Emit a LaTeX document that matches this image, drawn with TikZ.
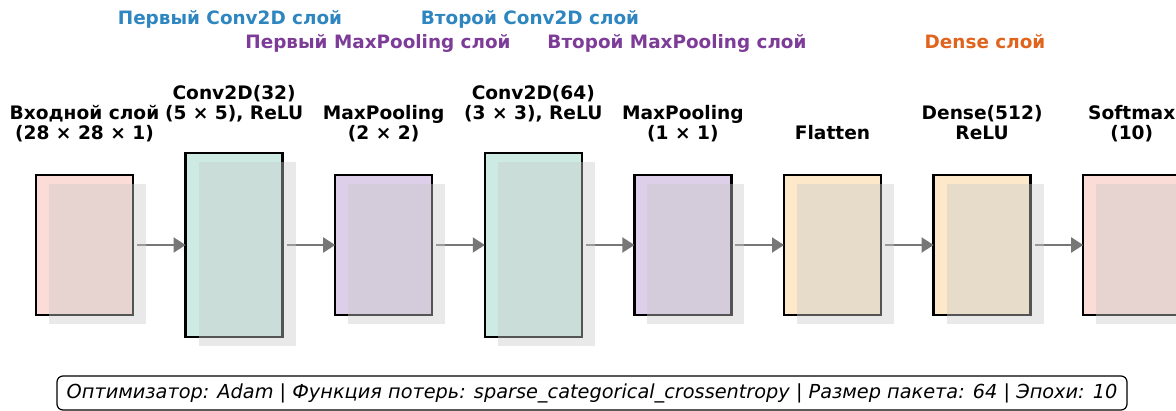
\documentclass[tikz,border=0pt]{standalone}
\usepackage{fontspec}
\setmainfont{DejaVu Sans}
\usetikzlibrary{arrows.meta}

\definecolor{pinkfill}{HTML}{FCDCD6}
\definecolor{tealfill}{HTML}{CDEBE3}
\definecolor{lilacfill}{HTML}{DDCFE9}
\definecolor{sandfill}{HTML}{FDE9CA}
\definecolor{shadegray}{HTML}{CACACA}
\definecolor{convblue}{HTML}{2E86C1}
\definecolor{poolpurple}{HTML}{7D3C98}
\definecolor{denseorange}{HTML}{E0641E}
\definecolor{arrowgray}{HTML}{777777}

\begin{document}
\begin{tikzpicture}[
  x = 1pt, y = -1pt,
  layer/.style = {
    shape = rectangle,
    draw = black,
    line width = 2.5pt,
    minimum width = 97pt,
    minimum height = 140pt,
    inner sep = 0pt,
    outer sep = 0pt,
  },
  tall/.style = { minimum height = 184pt },
  lbl/.style = {
    font = \bfseries\fontsize{18.6}{20.5}\selectfont,
    align = center,
    anchor = base,
    inner sep = 0pt,
  },
  group/.style = {
    font = \bfseries\fontsize{18.4}{20}\selectfont,
    anchor = base,
    inner sep = 0pt,
  },
  flow/.style = {
    draw = arrowgray, line width = 2pt,
    -{Triangle[length = 12pt, width = 15pt]},
    shorten <= 4pt,
  },
  shade/.style = { fill = shadegray, fill opacity = 0.42 },
]
  \useasboundingbox (0, 0) rectangle (1176, 411);

  \node[layer, fill = pinkfill] (v1) at (84.5, 245) {};
  \node[layer, tall, fill = tealfill] (v2) at (234.1, 245) {};
  \node[layer, fill = lilacfill] (v3) at (383.7, 245) {};
  \node[layer, tall, fill = tealfill] (v4) at (533.3, 245) {};
  \node[layer, fill = lilacfill] (v5) at (682.9, 245) {};
  \node[layer, fill = sandfill] (v6) at (832.5, 245) {};
  \node[layer, fill = sandfill] (v7) at (982.1, 245) {};
  \node[layer, fill = pinkfill] (v8) at (1131.7, 245) {};

  % layer captions
  \node[lbl] (l1) at (84.5, 140) {Входной слой\\(28 × 28 × 1)};
  \node[lbl] (l2) at (234.1, 120) {Conv2D(32)\\(5 × 5), ReLU};
  \node[lbl] (l3) at (383.7, 140) {MaxPooling\\(2 × 2)};
  \node[lbl] (l4) at (533.3, 120) {Conv2D(64)\\(3 × 3), ReLU};
  \node[lbl] (l5) at (682.9, 140) {MaxPooling\\(1 × 1)};
  \node[lbl] (l6) at (832.5, 140) {Flatten};
  \node[lbl] (l7) at (982.1, 140) {Dense(512)\\ReLU};
  \node[lbl] (l8) at (1131.7, 140) {Softmax\\(10)};

  % group captions
  \node[group, text = convblue] (g1) at (230, 25) {Первый Conv2D слой};
  \node[group, text = convblue] (g2) at (530, 25) {Второй Conv2D слой};
  \node[group, text = poolpurple] (g3) at (378, 49) {Первый MaxPooling слой};
  \node[group, text = poolpurple] (g4) at (677, 49) {Второй MaxPooling слой};
  \node[group, text = denseorange] (g5) at (985, 49) {Dense слой};

  \draw[flow] (v1) -- (v2);
  \draw[flow] (v2) -- (v3);
  \draw[flow] (v3) -- (v4);
  \draw[flow] (v4) -- (v5);
  \draw[flow] (v5) -- (v6);
  \draw[flow] (v6) -- (v7);
  \draw[flow] (v7) -- (v8);

  % drop shadows
  \fill[shade] ([shift = {(13, 9)}]v1.south west) rectangle ([shift = {(13, 9)}]v1.north east);
  \fill[shade] ([shift = {(13, 9)}]v2.south west) rectangle ([shift = {(13, 9)}]v2.north east);
  \fill[shade] ([shift = {(13, 9)}]v3.south west) rectangle ([shift = {(13, 9)}]v3.north east);
  \fill[shade] ([shift = {(13, 9)}]v4.south west) rectangle ([shift = {(13, 9)}]v4.north east);
  \fill[shade] ([shift = {(13, 9)}]v5.south west) rectangle ([shift = {(13, 9)}]v5.north east);
  \fill[shade] ([shift = {(13, 9)}]v6.south west) rectangle ([shift = {(13, 9)}]v6.north east);
  \fill[shade] ([shift = {(13, 9)}]v7.south west) rectangle ([shift = {(13, 9)}]v7.north east);
  \fill[shade] ([shift = {(13, 9)}]v8.south west) rectangle ([shift = {(13, 9)}]v8.north east);

  \node[draw = black, line width = 1.2pt, fill = white, rounded corners = 6pt,
    minimum width = 1070pt, minimum height = 34pt, inner sep = 0pt,
    font = \itshape\fontsize{19.3}{22}\selectfont] (info) at (592, 393)
    {Оптимизатор: Adam | Функция потерь: sparse\_categorical\_crossentropy | Размер пакета: 64 | Эпохи: 10};
\end{tikzpicture}
\end{document}
